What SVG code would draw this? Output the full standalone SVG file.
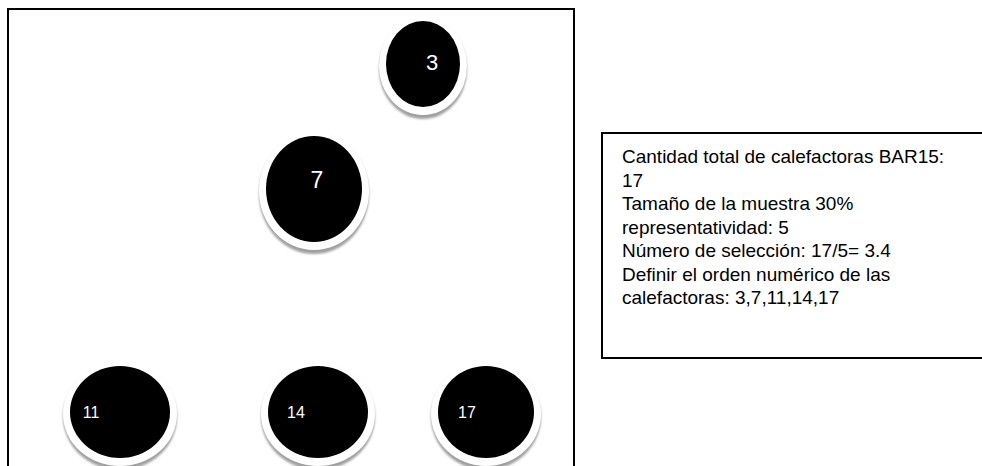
<svg xmlns="http://www.w3.org/2000/svg" width="982" height="466" viewBox="0 0 982 466">
<style>
.frame{fill:none;stroke:#000;stroke-width:2}
.shadow{fill:#a0a0a0}
.ring{fill:#fff}
.body{fill:#000}
.lbl{fill:#fff;font-family:"Liberation Sans",Arial,sans-serif;text-anchor:middle}
.note{fill:#000;font-family:"Liberation Sans",Arial,sans-serif;font-size:19px}
</style>
<defs>
<filter id="soft" x="-10%" y="-10%" width="120%" height="120%"><feGaussianBlur stdDeviation="1"/></filter>
</defs>
<rect class="frame" x="8" y="9" width="566" height="480"/>
<g id="node-3">
<ellipse class="shadow" cx="423" cy="69" rx="44" ry="50" filter="url(#soft)"/>
<ellipse class="ring" cx="423" cy="66" rx="44" ry="49"/>
<ellipse class="body" cx="423" cy="64" rx="37" ry="43"/>
<text class="lbl" x="432" y="70" font-size="22">3</text>
</g>
<g id="node-7">
<ellipse class="shadow" cx="314" cy="194" rx="55" ry="60" filter="url(#soft)"/>
<ellipse class="ring" cx="314" cy="191" rx="55" ry="59"/>
<ellipse class="body" cx="314" cy="189" rx="48" ry="53"/>
<text class="lbl" x="317" y="188" font-size="23">7</text>
</g>
<g id="node-11">
<ellipse class="shadow" cx="120" cy="417" rx="57" ry="53" filter="url(#soft)"/>
<ellipse class="ring" cx="120" cy="414" rx="57" ry="52"/>
<ellipse class="body" cx="120" cy="412" rx="50" ry="46"/>
<text class="lbl" x="91" y="418" font-size="16">11</text>
</g>
<g id="node-14">
<ellipse class="shadow" cx="318" cy="417" rx="57" ry="53" filter="url(#soft)"/>
<ellipse class="ring" cx="318" cy="414" rx="57" ry="52"/>
<ellipse class="body" cx="318" cy="412" rx="50" ry="46"/>
<text class="lbl" x="296" y="418" font-size="16">14</text>
</g>
<g id="node-17">
<ellipse class="shadow" cx="486" cy="417" rx="55" ry="53" filter="url(#soft)"/>
<ellipse class="ring" cx="486" cy="414" rx="55" ry="52"/>
<ellipse class="body" cx="486" cy="412" rx="48" ry="46"/>
<text class="lbl" x="467" y="418" font-size="16">17</text>
</g>
<g id="connectors"></g>
<g id="note">
<rect class="frame" x="602" y="133" width="400" height="225"/>
<text class="note" x="622" y="163">Cantidad total de calefactoras BAR15:</text>
<text class="note" x="622" y="186.5">17</text>
<text class="note" x="622" y="210">Tamaño de la muestra 30%</text>
<text class="note" x="622" y="233.5">representatividad: 5</text>
<text class="note" x="622" y="257">Número de selección: 17/5= 3.4</text>
<text class="note" x="622" y="280.5">Definir el orden numérico de las</text>
<text class="note" x="622" y="304">calefactoras: 3,7,11,14,17</text>
</g>
</svg>
